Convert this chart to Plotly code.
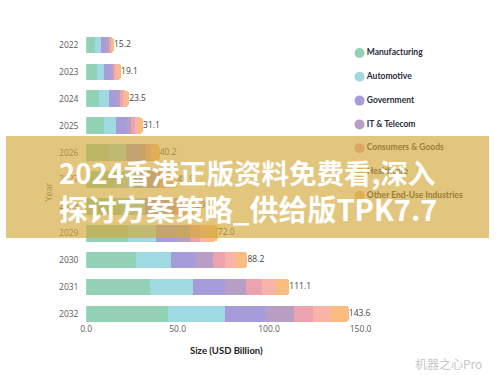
import plotly.graph_objects as go

years = ["2022", "2023", "2024", "2025", "2026", "2027", "2028", "2029", "2030", "2031", "2032"]
manufacturing = [4.9, 6.0, 7.2, 9.5, 12.6, 15.8, 19.2, 23.0, 27.5, 34.9, 44.9]
automotive = [3.2, 3.9, 5.3, 7.0, 9.0, 11.0, 12.8, 15.0, 19.0, 23.7, 31.1]
government = [3.0, 3.5, 4.4, 5.7, 7.6, 9.2, 10.6, 11.6, 13.5, 17.4, 22.3]
it_telecom = [1.4, 1.4, 1.8, 2.3, 3.6, 4.6, 6.0, 7.4, 9.2, 11.2, 15.3]
consumers_goods = [0.9, 1.2, 1.4, 2.1, 2.8, 3.4, 4.2, 5.0, 6.8, 8.8, 10.4]
healthcare = [0.9, 1.4, 1.5, 1.8, 2.2, 2.8, 3.3, 4.0, 6.0, 7.0, 10.0]
other_end_use = [0.9, 1.7, 1.9, 2.7, 2.4, 3.1, 3.7, 6.0, 6.2, 8.1, 9.6]
x_ticks = [0, 50, 100, 150]

series = [
    ("Manufacturing", manufacturing, "#93d1b7"),
    ("Automotive", automotive, "#9fdae2"),
    ("Government", government, "#a69cd9"),
    ("IT & Telecom", it_telecom, "#b89ec2"),
    ("Consumers & Goods", consumers_goods, "#eda3ae"),
    ("Healthcare", healthcare, "#f8b4a6"),
    ("Other End-Use Industries", other_end_use, "#fabd7f"),
]

W, H = 500, 375
plot_l, plot_r = 83, 367
plot_t, plot_b = 31.5, 322
TICK_FONT = dict(family="Open Sans", size=8.5, color="#595959")

fig = go.Figure()
for name, vals, color in series:
    fig.add_trace(go.Bar(
        y=years, x=vals, orientation="h", name=name,
        marker=dict(color=color, line=dict(width=0)),
        showlegend=False, hoverinfo="skip",
    ))

totals = [round(sum(v), 1) for v in zip(*[s[1] for s in series])]
fig.add_trace(go.Scatter(
    x=totals, y=years, mode="text",
    text=[f"{t:.1f}" for t in totals], textposition="middle right",
    textfont=dict(family="Open Sans", size=8.5, color="#444444"),
    cliponaxis=False, showlegend=False, hoverinfo="skip",
))

# legend drawn on an overlay pixel-space axis (so the banner can cover it)
leg_x, leg_y0, leg_dy = 366, 53, 23.8
fig.add_trace(go.Scatter(
    x=[leg_x] * len(series), y=[leg_y0 + leg_dy * i for i in range(len(series))],
    xaxis="x2", yaxis="y2", mode="markers+text",
    text=[s[0] for s in series], textposition="middle right",
    marker=dict(color=[s[2] for s in series], size=10, line=dict(width=0)),
    textfont=dict(family="Lato", size=8.5, color="#2b2b3b", weight="bold"),
    cliponaxis=False, showlegend=False, hoverinfo="skip",
))

fig.update_layout(
    width=W, height=H, autosize=False,
    margin=dict(l=0, r=0, t=0, b=0),
    paper_bgcolor="white", plot_bgcolor="rgba(0,0,0,0)",
    barmode="stack", bargap=0.38, barcornerradius=4,
    showlegend=False,
    xaxis=dict(domain=[plot_l / W, plot_r / W], range=[0, 150], tickvals=x_ticks,
               tickformat=".1f", showgrid=False, zeroline=False, showline=False,
               ticks="", tickfont=TICK_FONT, anchor="y", fixedrange=True),
    yaxis=dict(domain=[1 - plot_b / H, 1 - plot_t / H], type="category",
               categoryorder="array", categoryarray=years, range=[10.3, -0.5],
               showgrid=False, zeroline=False, showline=False,
               ticks="outside", ticklen=5, tickcolor="rgba(0,0,0,0)",
               tickfont=TICK_FONT, anchor="x", fixedrange=True),
    xaxis2=dict(domain=[0, 1], range=[0, W], visible=False, anchor="y2", fixedrange=True),
    yaxis2=dict(domain=[0, 1], range=[H, 0], visible=False, anchor="x2", fixedrange=True),
    shapes=[dict(type="rect", xref="paper", yref="paper", x0=0, x1=1,
                 y0=1 - 238 / H, y1=1 - 136 / H, layer="above",
                 fillcolor="rgba(211,168,55,0.65)", line=dict(width=0))],
    annotations=[
        dict(text="<b>Size (USD Billion)</b>", xref="paper", yref="paper",
             x=228 / W, y=1 - 350 / H, showarrow=False, xanchor="center", yanchor="middle",
             font=dict(family="Lato", size=9.5, color="#222222")),
        dict(text="Year", xref="paper", yref="paper", x=43 / W, y=1 - 192 / H,
             textangle=-90, showarrow=False, xanchor="center", yanchor="middle",
             font=dict(family="Open Sans", size=9, color="#ad9147")),
        dict(text="<b>2024香港正版资料免费看,深入</b>", xref="paper", yref="paper",
             x=249 / W, y=1 - 172 / H, showarrow=False, xanchor="center", yanchor="middle",
             font=dict(family="Noto Sans CJK SC", size=27.5, color="white")),
        dict(text="<b>探讨方案策略_供给版TPK7.7</b>", xref="paper", yref="paper",
             x=251 / W, y=1 - 208 / H, showarrow=False, xanchor="center", yanchor="middle",
             font=dict(family="Noto Sans CJK SC", size=29, color="white")),
        dict(text="机器之心Pro", xref="paper", yref="paper",
             x=495 / W, y=1 - 363 / H, showarrow=False, xanchor="right", yanchor="middle",
             font=dict(family="Noto Sans CJK SC", size=12, color="#c6c6c6")),
    ],
)

fig.write_html("out.html", config={"displayModeBar": False, "staticPlot": True},
               post_script="document.body.style.margin='0';")
